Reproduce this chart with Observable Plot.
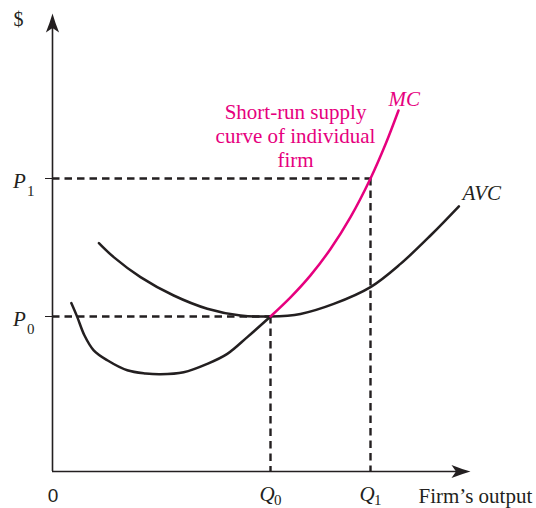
<!DOCTYPE html>
<html>
<head>
<meta charset="utf-8">
<script src="https://cdn.jsdelivr.net/npm/d3@7"></script>
<script src="https://cdn.jsdelivr.net/npm/@observablehq/plot@0.6"></script>
<style>
  html, body { margin: 0; padding: 0; background: #fff; }
  #chart svg { display: block; }
</style>
</head>
<body>
<div id="chart"></div>
<script>
// ---- data (arbitrary economic units: output on x, $ on y) ----
const priceNames = ["P", "P"];
const priceSubs = ["0", "1"];
const prices = [3.875, 7.325];          // P0, P1
const qtyNames = ["Q", "Q"];
const qtySubs = ["0", "1"];
const quantities = [5.45, 7.95];        // Q0, Q1

// MC below AVC minimum (black part)
const mcLowQ = [0.47, 0.62, 0.80, 1.03, 1.37, 1.87, 2.33, 2.70, 3.28, 3.87, 4.37, 4.87, 5.45];
const mcLowC = [4.21, 3.86, 3.40, 3.03, 2.78, 2.53, 2.45, 2.43, 2.48, 2.69, 2.94, 3.36, 3.875];
// MC above AVC minimum (short-run supply curve, magenta)
const mcHighQ = [5.45, 5.95, 6.45, 6.95, 7.45, 7.95, 8.325, 8.65];
const mcHighC = [3.875, 4.353, 4.903, 5.563, 6.358, 7.325, 8.18, 9.025];
// AVC
const avcQ = [1.16, 1.53, 2.2, 3.03, 3.87, 4.7, 5.45, 6.2, 7.03, 7.95, 8.7, 9.45, 10.16];
const avcC = [5.71, 5.36, 4.86, 4.4, 4.07, 3.9, 3.875, 3.94, 4.19, 4.61, 5.19, 5.9, 6.63];

const supplyLabel = "Short-run supply\ncurve of individual\nfirm";
const mcLabel = "MC";
const avcLabel = "AVC";
const xTitle = "Firm\u2019s output";
const yTitle = "$";
const originLabel = "0";

// ---- build ----
const toPts = (xs, ys) => xs.map((x, i) => ({x, y: ys[i]}));
const mcLow = toPts(mcLowQ, mcLowC);
const mcHigh = toPts(mcHighQ, mcHighC);
const avc = toPts(avcQ, avcC);

const INK = "#231f20";
const MAG = "#e6007e";
const SERIF = "'Liberation Serif', 'Times New Roman', Times, serif";
const xMax = 10.5, yMax = 11.5;
const xTip = 10.45, yTip = 11.45;

const arrowHead = {
  draw(ctx) {
    ctx.moveTo(0, 0);
    ctx.quadraticCurveTo(2.6, 9, 6.6, 19);
    ctx.lineTo(0, 14.5);
    ctx.lineTo(-6.6, 19);
    ctx.quadraticCurveTo(-2.6, 9, 0, 0);
    ctx.closePath();
  }
};

const plot = Plot.plot({
  width: 536,
  height: 508,
  marginLeft: 52,
  marginRight: 64,
  marginTop: 11,
  marginBottom: 37,
  style: {background: "#fff", color: INK, overflow: "visible"},
  x: {domain: [0, xMax], axis: null},
  y: {domain: [0, yMax], ticks: prices, tickSize: 7, tickFormat: () => "", label: null},
  marks: [
    // dashed guides
    Plot.ruleY(prices, {y: d => d, x1: () => 0, x2: (d, i) => quantities[i],
      stroke: INK, strokeWidth: 2.4, strokeDasharray: "7.5,5"}),
    Plot.ruleX(quantities, {x: d => d, y1: (d, i) => prices[i], y2: () => 0,
      stroke: INK, strokeWidth: 2.4, strokeDasharray: "7.5,5"}),
    // axes
    Plot.ruleY([0], {y: d => d, x1: () => 0, x2: () => xTip - 0.3, stroke: INK, strokeWidth: 1.6}),
    Plot.ruleX([0], {x: d => d, y1: () => 0, y2: () => yTip - 0.3, stroke: INK, strokeWidth: 1.6}),
    Plot.dot([0], {x: () => 0, y: () => yTip, symbol: arrowHead, r: 5, fill: INK, stroke: "none"}),
    Plot.dot([0], {x: () => xTip, y: () => 0, symbol: arrowHead, rotate: 90, r: 5, fill: INK, stroke: "none"}),
    // curves
    Plot.line(avc, {x: "x", y: "y", curve: "catmull-rom", stroke: INK, strokeWidth: 2.5}),
    Plot.line(mcLow, {x: "x", y: "y", curve: "catmull-rom", stroke: INK, strokeWidth: 2.5}),
    Plot.line(mcHigh, {x: "x", y: "y", curve: "catmull-rom", stroke: MAG, strokeWidth: 2.5}),
    // curve labels
    Plot.text(mcHigh, Plot.selectLast({x: "x", y: "y", text: () => mcLabel, textAnchor: "start",
      lineAnchor: "bottom", dx: -10, dy: -5, fill: MAG, fontFamily: SERIF, fontStyle: "italic", fontSize: 21})),
    Plot.text(avc, Plot.selectLast({x: "x", y: "y", text: () => avcLabel, textAnchor: "start",
      lineAnchor: "bottom", dx: 3.5, dy: -6, fill: INK, fontFamily: SERIF, fontStyle: "italic", fontSize: 21})),
    Plot.text([supplyLabel], {x: () => 6.075, y: () => 7.625, text: d => d, textAnchor: "middle",
      lineAnchor: "bottom", lineHeight: 1.12, fill: MAG, fontFamily: SERIF, fontSize: 21}),
    // price labels
    Plot.text(prices, {x: () => 0, y: d => d, text: (d, i) => priceNames[i], textAnchor: "start",
      lineAnchor: "bottom", dx: -39.5, dy: 9, fill: INK, fontFamily: SERIF, fontStyle: "italic", fontSize: 21}),
    Plot.text(prices, {x: () => 0, y: d => d, text: (d, i) => priceSubs[i], textAnchor: "start",
      lineAnchor: "bottom", dx: -25.5, dy: 17, fill: INK, fontFamily: SERIF, fontSize: 15}),
    // quantity labels
    Plot.text(quantities, {x: d => d, y: () => 0, text: (d, i) => qtyNames[i], textAnchor: "start",
      lineAnchor: "bottom", dx: -11, dy: 29, fill: INK, fontFamily: SERIF, fontStyle: "italic", fontSize: 21}),
    Plot.text(quantities, {x: d => d, y: () => 0, text: (d, i) => qtySubs[i], textAnchor: "start",
      lineAnchor: "bottom", dx: 3.5, dy: 33, fill: INK, fontFamily: SERIF, fontSize: 15}),
    // axis titles
    Plot.text([xTitle], {x: () => 9.15, y: () => 0, text: d => d, textAnchor: "start",
      lineAnchor: "bottom", dy: 31, fill: INK, fontFamily: SERIF, fontSize: 21}),
    Plot.text([yTitle], {x: () => 0, y: () => yMax, text: d => d, textAnchor: "start",
      lineAnchor: "bottom", dx: -39, dy: 14, fill: INK, fontFamily: SERIF, fontSize: 20}),
    Plot.text([originLabel], {x: () => 0, y: () => 0, text: d => d, textAnchor: "middle",
      lineAnchor: "bottom", dx: 0.5, dy: 30, fill: INK, fontFamily: "'Liberation Sans', Arial, sans-serif", fontSize: 19})
  ]
});
document.getElementById("chart").appendChild(plot);
</script>
</body>
</html>
